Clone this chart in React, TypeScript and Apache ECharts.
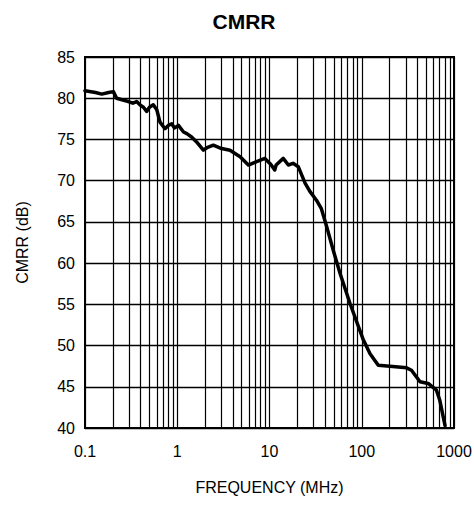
import React, { useEffect, useRef } from "react";
import * as echarts from "echarts";

const freqMHz = [0.1, 0.13, 0.152, 0.18, 0.203, 0.22, 0.295, 0.33, 0.363, 0.394, 0.43, 0.466, 0.5, 0.55, 0.6, 0.65, 0.736, 0.8, 0.87, 0.93, 1.03, 1.17, 1.27, 1.43, 1.62, 1.92, 2.1, 2.46, 3.02, 3.73, 4.8, 5.9, 7.25, 8.9, 10.3, 11.4, 11.8, 14.1, 16, 18, 20.5, 24.3, 27.4, 32.4, 36.5, 41.7, 49, 58, 74.6, 104, 123, 151, 202, 306, 346, 428, 525, 645, 700, 766, 800];
const cmrrDb = [80.9, 80.7, 80.5, 80.7, 80.8, 80.0, 79.6, 79.4, 79.6, 79.2, 78.9, 78.4, 78.9, 79.2, 78.6, 77.1, 76.3, 76.7, 76.9, 76.4, 76.7, 75.9, 75.7, 75.3, 74.7, 73.7, 74.0, 74.3, 73.9, 73.7, 72.9, 71.9, 72.3, 72.7, 72.0, 71.3, 71.9, 72.7, 71.9, 72.1, 71.7, 69.7, 68.7, 67.6, 66.6, 64.4, 61.6, 58.8, 55.1, 50.7, 49.0, 47.6, 47.5, 47.3, 47.0, 45.6, 45.4, 44.6, 43.4, 41.3, 40.3];
const decades = [0.1, 1, 10, 100];
const minorMultipliers = [2, 3, 4, 5, 6, 7, 8, 9];
const xTickLabels = ["0.1", "1", "10", "100", "1000"];

export default function App() {
  const ref = useRef<HTMLDivElement>(null);
  useEffect(() => {
    document.body.style.margin = "0";
    const chart = echarts.init(ref.current!, null, { renderer: "svg" });
    const minorLines: any[] = [];
    decades.forEach((d) => minorMultipliers.forEach((m) => minorLines.push({ xAxis: +(d * m).toPrecision(3) })));
    const font = "Liberation Sans, Arial, sans-serif";
    chart.setOption({
      animation: false,
      title: {
        text: "CMRR",
        left: 239,
        textAlign: "center",
        top: 6,
        textStyle: { fontSize: 21, fontWeight: "bold", color: "#000", fontFamily: font },
      },
      grid: {
        left: 85,
        right: 20,
        top: 57,
        bottom: 78,
        show: true,
        borderColor: "#000",
        borderWidth: 2,
        containLabel: false,
        outerBoundsMode: "none",
      },
      xAxis: {
        type: "log",
        logBase: 10,
        min: 0.1,
        max: 1000,
        name: "FREQUENCY (MHz)",
        nameLocation: "middle",
        nameGap: 51,
        nameTextStyle: { fontSize: 16, color: "#000", fontFamily: font },
        axisLine: { lineStyle: { color: "#000", width: 2 } },
        axisTick: { show: false },
        axisLabel: {
          fontSize: 16,
          color: "#000",
          fontFamily: font,
          margin: 15,
          formatter: (v: number) => {
            const s = String(+v.toPrecision(3));
            return xTickLabels.includes(s) ? s : "";
          },
        },
        splitLine: { show: true, lineStyle: { color: "#000", width: 1.2 } },
      },
      yAxis: {
        type: "value",
        min: 40,
        max: 85,
        interval: 5,
        name: "CMRR (dB)",
        nameLocation: "middle",
        nameGap: 55,
        nameTextStyle: { fontSize: 16, color: "#000", fontFamily: font },
        axisLine: { lineStyle: { color: "#000", width: 2 } },
        axisTick: { show: false },
        axisLabel: { fontSize: 16, color: "#000", fontFamily: font, margin: 10 },
        splitLine: { show: true, lineStyle: { color: "#000", width: 1.4 } },
      },
      series: [
        {
          type: "line",
          data: freqMHz.map((f, i) => [f, cmrrDb[i]]),
          showSymbol: false,
          symbol: "none",
          lineStyle: { color: "#000", width: 3.5, join: "round", cap: "round" },
          z: 5,
          markLine: {
            silent: true,
            symbol: "none",
            label: { show: false },
            lineStyle: { color: "#000", width: 1.2, type: "solid" },
            data: minorLines,
            z: 1,
          },
        },
      ],
    });
    return () => chart.dispose();
  }, []);
  return <div ref={ref} style={{ width: 474, height: 506 }} />;
}
